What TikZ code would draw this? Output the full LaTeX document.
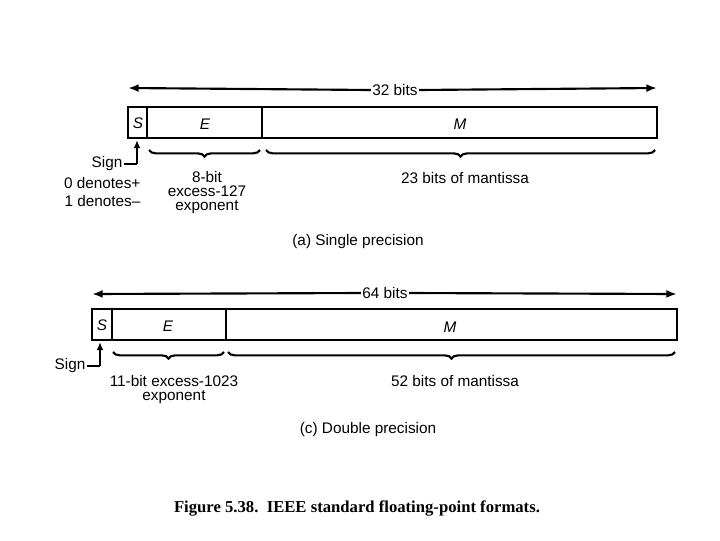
\documentclass[tikz,border=0pt]{standalone}
\usepackage{fontspec}
\setmainfont{Liberation Sans}
\newfontfamily\capfont{Liberation Serif}
\usetikzlibrary{decorations.pathreplacing,arrows.meta}
\begin{document}
\begin{tikzpicture}[x=0.75pt,y=-0.75pt,
  txt/.style={font=\fontsize{11.5}{12.5}\selectfont,inner sep=1pt},
  fld/.style={draw,line width=2pt},
  brc/.style={decorate,decoration={brace,mirror,amplitude=5pt},line width=1.6pt},
  dim/.style={line width=1.6pt,-{Latex[length=8pt,width=6pt]}},
  sgn/.style={line width=1.6pt,-{Latex[length=6pt,width=5pt]}}]
\useasboundingbox (0,0) rectangle (720,540);
% single
\node[txt,fill=white] (l32) at (395,90) {32 bits};
\coordinate (a1) at (128,88); \coordinate (a2) at (657,88);
\draw[dim] (l32.west) -- (a1);
\draw[dim] (l32.east) -- (a2);
\draw[fld] (128,107) rectangle (657,138);
\draw[line width=2pt] (147,107) -- (147,138) (262,107) -- (262,138);
\node[txt] (s1) at (138,123) {\textit{S}};
\node[txt] (e1) at (205,124) {\textit{E}};
\node[txt] (m1) at (460,124) {\textit{M}};
\draw[brc] (149,150) -- (260,150);
\draw[brc] (266,150) -- (655,150);
\node[txt,anchor=east] (sg1) at (124,164) {Sign};
\node[txt,anchor=east] (d0) at (142,183) {0 denotes+};
\node[txt,anchor=east] (d1) at (142,201) {1 denotes\textendash};
\coordinate (sc1) at (137,164);
\draw[line width=1.6pt] (sg1.east) -- (sc1);
\draw[sgn] (sc1) -- (137,140);
\node[txt,align=center] (ex1) at (207,193) {8-bit\\[-2pt]excess-127\\[-2pt]exponent};
\node[txt] (mt1) at (465,178) {23 bits of mantissa};
\node[txt] (ca) at (358,242) {(a) Single precision};
% double
\node[txt,fill=white] (l64) at (385,293) {64 bits};
\coordinate (b1) at (92,294); \coordinate (b2) at (677,294);
\draw[dim] (l64.west) -- (b1);
\draw[dim] (l64.east) -- (b2);
\draw[fld] (92,309) rectangle (677,340);
\draw[line width=2pt] (112,309) -- (112,340) (226,309) -- (226,340);
\node[txt] (s2) at (102,325) {\textit{S}};
\node[txt] (e2) at (168,326) {\textit{E}};
\node[txt] (m2) at (450,327) {\textit{M}};
\draw[brc] (113,352) -- (224,352);
\draw[brc] (228,352) -- (675,352);
\node[txt,anchor=east] (sg2) at (87,366) {Sign};
\coordinate (sc2) at (100,366);
\draw[line width=1.6pt] (sg2.east) -- (sc2);
\draw[sgn] (sc2) -- (100,342);
\node[txt,align=center] (ex2) at (174,390) {11-bit excess-1023\\[-2pt]exponent};
\node[txt] (mt2) at (455,381) {52 bits of mantissa};
\node[txt] (cc) at (368,430) {(c) Double precision};
\node[font=\capfont\bfseries\fontsize{12.5}{14}\selectfont] (cap) at (357,508) {Figure 5.38.\ \ IEEE standard floating-point formats.};
\end{tikzpicture}
\end{document}
